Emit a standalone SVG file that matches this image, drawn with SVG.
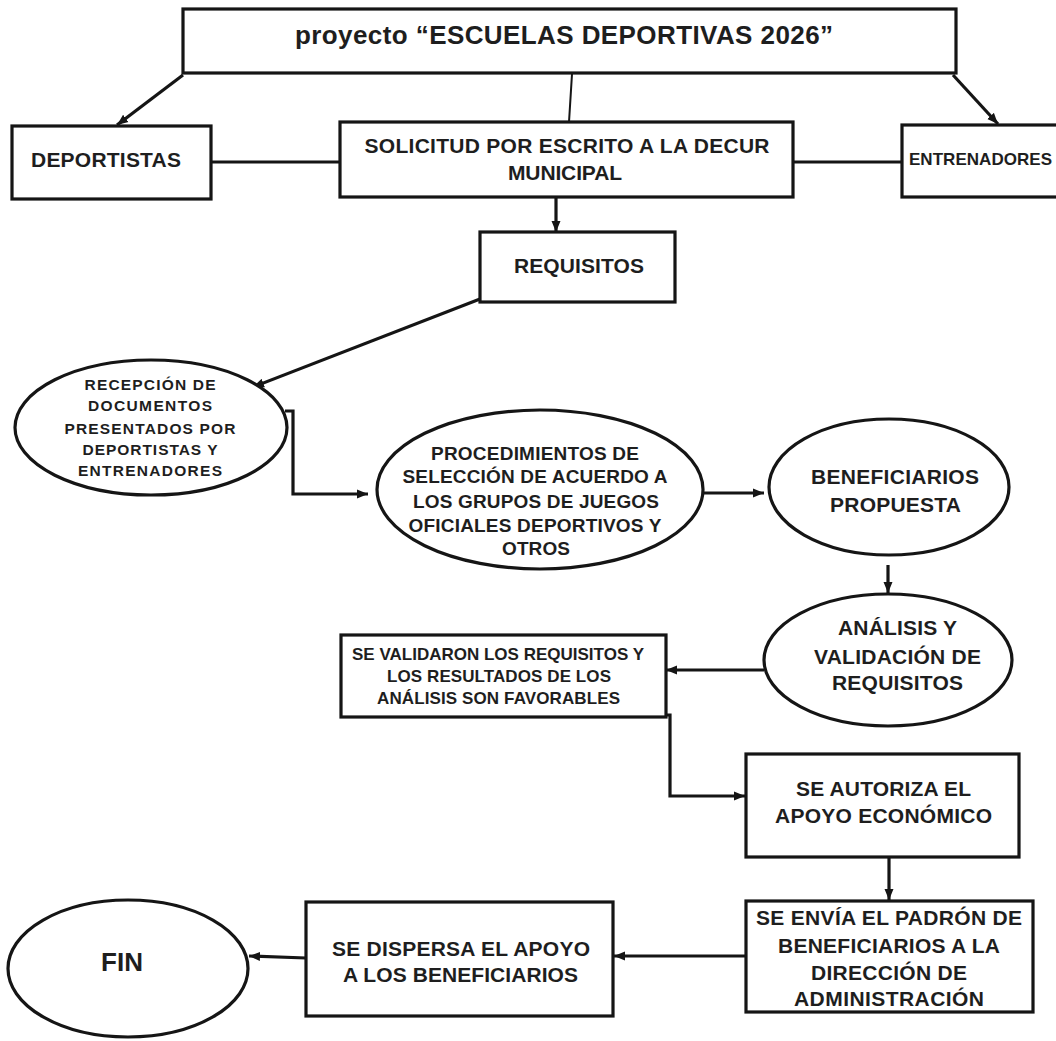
<svg xmlns="http://www.w3.org/2000/svg" width="1056" height="1041" viewBox="0 0 1056 1041">
<defs>
<marker id="arr" markerUnits="userSpaceOnUse" markerWidth="12" markerHeight="10" refX="11" refY="5" orient="auto">
<path d="M0,0.5 L11,5 L0,9.5 z" fill="#151515"/>
</marker>
<style>
.box{fill:#fff;stroke:#151515;stroke-width:3.2}
.t{font-family:"Liberation Sans",Arial,sans-serif;font-weight:bold;fill:#1e1e1e;text-anchor:middle}
.c{fill:none;stroke:#151515;stroke-width:3.2}
.thin{fill:none;stroke:#151515;stroke-width:2}
</style>
</defs>
<rect width="1056" height="1041" fill="#fff"/>
<g id="connectors">
<line class="c" x1="183" y1="75" x2="117" y2="125" marker-end="url(#arr)"/>
<line class="thin" x1="572" y1="74" x2="569" y2="122"/>
<line class="c" x1="953" y1="75" x2="998" y2="124" marker-end="url(#arr)"/>
<line class="c" x1="211" y1="162" x2="340" y2="162"/>
<line class="c" x1="793" y1="162" x2="902" y2="162"/>
<line class="c" x1="556" y1="197" x2="556" y2="232" marker-end="url(#arr)"/>
<line class="c" x1="480" y1="299" x2="253" y2="387" marker-end="url(#arr)"/>
<polyline class="c" points="285,411 293,411 293,494 368,494" marker-end="url(#arr)"/>
<line class="c" x1="703" y1="493" x2="764" y2="493" marker-end="url(#arr)"/>
<line class="c" x1="888" y1="565" x2="888" y2="593" marker-end="url(#arr)"/>
<line class="c" x1="764" y1="670" x2="666" y2="670" marker-end="url(#arr)"/>
<polyline class="c" points="595,715 670,715 670,796 745,796" marker-end="url(#arr)"/>
<line class="c" x1="889" y1="857" x2="889" y2="900" marker-end="url(#arr)"/>
<line class="c" x1="746" y1="956" x2="614" y2="956" marker-end="url(#arr)"/>
<line class="c" x1="306" y1="958" x2="249" y2="956" marker-end="url(#arr)"/>
</g>
<g id="title">
<rect class="box" x="183" y="9" width="773" height="64"/>
<text class="t" x="564" y="44" font-size="26" textLength="538">proyecto “ESCUELAS DEPORTIVAS 2026”</text>
</g>
<g id="deportistas">
<rect class="box" x="12" y="126" width="199" height="73"/>
<text class="t" x="106" y="167" font-size="21" textLength="150">DEPORTISTAS</text>
</g>
<g id="solicitud">
<rect class="box" x="340" y="122" width="453" height="75"/>
<text class="t" x="567" y="153" font-size="21" textLength="405">SOLICITUD POR ESCRITO A LA DECUR</text>
<text class="t" x="565" y="180" font-size="21" textLength="114">MUNICIPAL</text>
</g>
<g id="entrenadores">
<rect class="box" x="902" y="125" width="170" height="72"/>
<text class="t" x="980.5" y="165" font-size="17" textLength="143">ENTRENADORES</text>
</g>
<g id="requisitos">
<rect class="box" x="480" y="232" width="195" height="70"/>
<text class="t" x="579" y="273" font-size="21" textLength="130">REQUISITOS</text>
</g>
<g id="recepcion">
<ellipse class="box" cx="151" cy="427.5" rx="136" ry="67.5"/>
<text class="t" x="150" y="390" font-size="15.5" textLength="131">RECEPCIÓN DE</text>
<text class="t" x="150" y="411" font-size="15.5" textLength="124">DOCUMENTOS</text>
<text class="t" x="150" y="434" font-size="15.5" textLength="171">PRESENTADOS POR</text>
<text class="t" x="150" y="455" font-size="15.5" textLength="135">DEPORTISTAS Y</text>
<text class="t" x="150" y="476" font-size="15.5" textLength="144">ENTRENADORES</text>
</g>
<g id="procedimientos">
<ellipse class="box" cx="540" cy="489.5" rx="163" ry="79.5"/>
<text class="t" x="535" y="460" font-size="19" textLength="208">PROCEDIMIENTOS DE</text>
<text class="t" x="535" y="483" font-size="19" textLength="265">SELECCIÓN DE ACUERDO A</text>
<text class="t" x="536" y="508" font-size="19" textLength="246">LOS GRUPOS DE JUEGOS</text>
<text class="t" x="535" y="532" font-size="19" textLength="253">OFICIALES DEPORTIVOS Y</text>
<text class="t" x="536" y="555" font-size="19" textLength="68">OTROS</text>
</g>
<g id="beneficiarios">
<ellipse class="box" cx="889" cy="487" rx="120" ry="68"/>
<text class="t" x="895" y="484" font-size="21" textLength="168">BENEFICIARIOS</text>
<text class="t" x="895.5" y="512" font-size="21" textLength="131">PROPUESTA</text>
</g>
<g id="analisis">
<ellipse class="box" cx="888" cy="660" rx="124" ry="66"/>
<text class="t" x="897.5" y="635" font-size="21" textLength="119">ANÁLISIS Y</text>
<text class="t" x="897.5" y="664" font-size="21" textLength="167">VALIDACIÓN DE</text>
<text class="t" x="897.5" y="690" font-size="21" textLength="131">REQUISITOS</text>
</g>
<g id="validaron">
<rect class="box" x="341" y="635" width="325" height="82"/>
<text class="t" x="498" y="660" font-size="17" textLength="292">SE VALIDARON LOS REQUISITOS Y</text>
<text class="t" x="499" y="682" font-size="17" textLength="224">LOS RESULTADOS DE LOS</text>
<text class="t" x="498.5" y="704" font-size="17" textLength="243">ANÁLISIS SON FAVORABLES</text>
</g>
<g id="autoriza">
<rect class="box" x="746" y="754" width="273" height="103"/>
<text class="t" x="883.5" y="796" font-size="21" textLength="175">SE AUTORIZA EL</text>
<text class="t" x="883.5" y="823" font-size="21" textLength="217">APOYO ECONÓMICO</text>
</g>
<g id="envia">
<rect class="box" x="746" y="901" width="287" height="111"/>
<text class="t" x="889" y="925" font-size="21" textLength="266">SE ENVÍA EL PADRÓN DE</text>
<text class="t" x="889" y="953" font-size="21" textLength="222">BENEFICIARIOS A LA</text>
<text class="t" x="889" y="980" font-size="21" textLength="156">DIRECCIÓN DE</text>
<text class="t" x="889" y="1006" font-size="21" textLength="190">ADMINISTRACIÓN</text>
</g>
<g id="dispersa">
<rect class="box" x="306" y="902" width="307" height="114"/>
<text class="t" x="461" y="956" font-size="21" textLength="258">SE DISPERSA EL APOYO</text>
<text class="t" x="460.5" y="982" font-size="21" textLength="235">A LOS BENEFICIARIOS</text>
</g>
<g id="fin">
<ellipse class="box" cx="128" cy="968.5" rx="120" ry="68.5"/>
<text class="t" x="122" y="971" font-size="26" textLength="42">FIN</text>
</g>
</svg>
